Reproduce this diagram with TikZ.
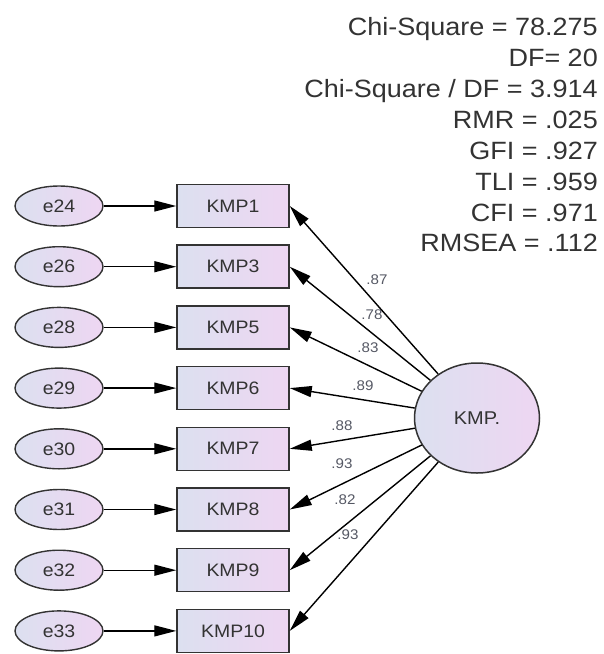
\documentclass[tikz,border=0pt]{standalone}
\usepackage{fontspec}
\setmainfont{Liberation Sans}[FakeStretch=1.08]
\usetikzlibrary{arrows.meta,shapes.geometric}
\definecolor{fillL}{RGB}{220,224,240}
\definecolor{fillR}{RGB}{238,214,242}
\definecolor{ink}{RGB}{51,51,51}
\definecolor{coefc}{RGB}{85,88,100}
\begin{document}
\begin{tikzpicture}[x=1pt,y=-1pt,
  obs/.style={draw=ink, line width=1.5pt, rectangle, minimum width=112pt, minimum height=43pt,
    left color=fillL, right color=fillR, font=\fontsize{18}{20}\selectfont, text=ink, inner sep=0pt},
  err/.style={draw=ink, line width=1.4pt, ellipse, minimum width=88pt, minimum height=40pt,
    left color=fillL, right color=fillR, font=\fontsize{18}{20}\selectfont, text=ink, inner sep=0pt},
  lat/.style={draw=ink, line width=1.5pt, ellipse, minimum width=125pt, minimum height=110pt,
    left color=fillL, right color=fillR, font=\fontsize{18.5}{20}\selectfont, text=ink, inner sep=0pt},
  pth/.style={-{Triangle[length=22pt,width=11pt]}, line width=1.4pt, black},
  coef/.style={font=\fontsize{14}{16}\selectfont, text=coefc, inner sep=0pt},
  fitline/.style={anchor=base east, font=\fontsize{25}{30}\selectfont, text=ink, inner sep=0pt}
]
\useasboundingbox (0,0) rectangle (604,654);

% fit statistics
\node[fitline] (f1) at (598,35) {Chi-Square = 78.275};
\node[fitline] (f2) at (598,66) {DF= 20};
\node[fitline] (f3) at (598,97) {Chi-Square / DF = 3.914};
\node[fitline] (f4) at (598,128) {RMR = .025};
\node[fitline] (f5) at (598,159) {GFI = .927};
\node[fitline] (f6) at (598,190) {TLI = .959};
\node[fitline] (f7) at (598,221) {CFI = .971};
\node[fitline] (f8) at (598,251) {RMSEA = .112};

% latent
\node[lat] (kmp) at (477,418) {KMP.};

% rows
\foreach \e/\m/\i in {e24/KMP1/0, e26/KMP3/1, e28/KMP5/2, e29/KMP6/3, e30/KMP7/4, e31/KMP8/5, e32/KMP9/6, e33/KMP10/7} {
  \node[err] (err\i) at (59,206+60.7*\i) {\e};
  \node[obs] (obs\i) at (233,206+60.7*\i) {\m};
  \draw[pth] (err\i) -- (obs\i);
  \draw[pth] (kmp) -- (obs\i.east);
}

% coefficients
\node[coef] (c0) at (377,280) {.87};
\node[coef] (c1) at (372,315) {.78};
\node[coef] (c2) at (368,348) {.83};
\node[coef] (c3) at (363,386) {.89};
\node[coef] (c4) at (342,426) {.88};
\node[coef] (c5) at (342,464) {.93};
\node[coef] (c6) at (345,500) {.82};
\node[coef] (c7) at (348,535) {.93};
\end{tikzpicture}
\end{document}
